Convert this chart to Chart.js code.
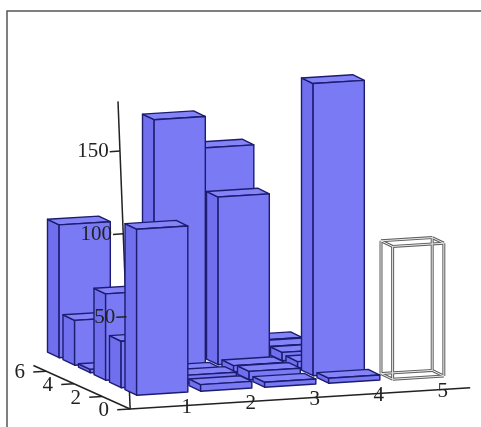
<!DOCTYPE html>
<html>
<head>
<meta charset="utf-8">
<script src="https://cdn.jsdelivr.net/npm/chart.js@4"></script>
<style>
  html, body { margin: 0; padding: 0; background: #fff; }
  #wrap { width: 481px; height: 427px; }
</style>
</head>
<body>
<div id="wrap"><canvas id="bars"></canvas></div>
<script>
// axis labels
const columnLabels = ["1", "2", "3", "4", "5"];
const depthLabels = [0, 2, 4, 6];
const heightLabels = [50, 100, 150];

// bar heights, one array per depth row (row0 = front row), one value per column
const row0 = [100, 4, 3, 3, 80];
const row1 = [28, 5, 5, 176, 0];
const row2 = [52, 3, 4, 4, 0];
const row3 = [2, 150, 101, 5, 0];
const row4 = [27, 3, 126, 4, 0];
const row5 = [80, 3, 3, 3, 0];
const rows = [row0, row1, row2, row3, row4, row5];

// cells drawn as an empty wire box: [row, column]
const hollowCells = [[0, 4]];

// oblique projection: column, depth row, height -> x/y scale values
const RX = -0.2422; // one row back moves left
const RY = 4.518;   // ... and up
const CY = 2.41;    // one column right moves up a little
const GAP = 0.1;

let points = [];
rows.forEach((vals, r) => {
  vals.forEach((v, c) => {
    points.push({ x: c, y: r, v: v });
  });
});

function proj(chart, c, r, v) {
  const xs = chart.scales.x;
  const ys = chart.scales.y;
  return [xs.getPixelForValue(c + r * RX), ys.getPixelForValue(v + c * CY + r * RY)];
}

function poly(ctx, pts, fill, stroke) {
  ctx.beginPath();
  ctx.moveTo(pts[0][0], pts[0][1]);
  for (let i = 1; i < pts.length; i++) ctx.lineTo(pts[i][0], pts[i][1]);
  ctx.closePath();
  if (fill) {
    ctx.fillStyle = fill;
    ctx.fill();
  }
  if (stroke) {
    ctx.strokeStyle = stroke;
    ctx.stroke();
  }
}

function line(ctx, a, b) {
  ctx.beginPath();
  ctx.moveTo(a[0], a[1]);
  ctx.lineTo(b[0], b[1]);
  ctx.stroke();
}

// z axis leans a little, like in the picture
function zAxisPoint(chart, v, dc) {
  return proj(chart, -0.3 + 0.19 * (180 - v) / 186 + (dc || 0), -0.4, v);
}

const bars3d = {
  id: "bars3d",
  afterDraw(chart) {
    const ctx = chart.ctx;
    const P = (c, r, v) => proj(chart, c, r, v);
    ctx.save();

    // frame
    ctx.strokeStyle = "#555";
    ctx.lineWidth = 1.5;
    ctx.beginPath();
    ctx.moveTo(7, 427);
    ctx.lineTo(7, 11);
    ctx.lineTo(481, 11);
    ctx.stroke();

    // z axis line (behind the bars)
    ctx.strokeStyle = "#222";
    ctx.lineWidth = 1.5;
    line(ctx, zAxisPoint(chart, -6), zAxisPoint(chart, 180));

    // bars, back to front
    const data = chart.data.datasets[0].data;
    const sorted = data.slice().sort((a, b) => (b.y - a.y) || (b.x - a.x));
    sorted.forEach((d) => {
      const hollow = hollowCells.some((h) => h[0] === d.y && h[1] === d.x);
      if (!d.v) return;
      const c0 = d.x + GAP, c1 = d.x + 1 - GAP;
      const r0 = d.y + 0.05, r1 = d.y + 0.8;
      const v = d.v;
      if (hollow) {
        const edges = [
          [[c0, r0, 0], [c1, r0, 0]], [[c0, r1, 0], [c1, r1, 0]],
          [[c0, r0, v], [c1, r0, v]], [[c0, r1, v], [c1, r1, v]],
          [[c0, r0, 0], [c0, r1, 0]], [[c1, r0, 0], [c1, r1, 0]],
          [[c0, r0, v], [c0, r1, v]], [[c1, r0, v], [c1, r1, v]],
          [[c0, r0, 0], [c0, r0, v]], [[c1, r0, 0], [c1, r0, v]],
          [[c0, r1, 0], [c0, r1, v]], [[c1, r1, 0], [c1, r1, v]],
        ];
        ctx.lineWidth = 3;
        ctx.strokeStyle = "rgb(95,95,95)";
        edges.forEach((e) => line(ctx, P(...e[0]), P(...e[1])));
        ctx.lineWidth = 1;
        ctx.strokeStyle = "rgb(235,235,235)";
        edges.forEach((e) => line(ctx, P(...e[0]), P(...e[1])));
        return;
      }
      ctx.lineWidth = 1.4;
      ctx.lineJoin = "round";
      const edge = "rgb(28,28,112)";
      // left side
      poly(ctx, [P(c0, r0, 0), P(c0, r1, 0), P(c0, r1, v), P(c0, r0, v)], "rgb(112,112,238)", edge);
      // top
      poly(ctx, [P(c0, r0, v), P(c1, r0, v), P(c1, r1, v), P(c0, r1, v)], "rgb(132,132,248)", edge);
      // front
      poly(ctx, [P(c0, r0, 0), P(c1, r0, 0), P(c1, r0, v), P(c0, r0, v)], "rgb(122,122,245)", edge);
    });

    ctx.strokeStyle = "#222";
    ctx.fillStyle = "#222";
    ctx.lineWidth = 1.5;
    ctx.font = '21px "Liberation Serif", "DejaVu Serif", serif';

    // x axis along the front
    const ra = -1.527, ca = -0.385;
    line(ctx, P(ca, ra, 0), P(4.93, ra, 0));
    ctx.textAlign = "center";
    ctx.textBaseline = "middle";
    columnLabels.forEach((lab, i) => {
      const p = P(i + 0.5, ra, -1);
      ctx.fillText(lab, p[0], p[1]);
    });

    // depth axis
    const depthPoint = (t, dc) => P(ca - 0.0136 * t + (dc || 0), ra + 0.847 * t, 0);
    line(ctx, depthPoint(0), depthPoint(6.9));
    depthLabels.forEach((t) => {
      line(ctx, depthPoint(t), depthPoint(t, -0.2));
      const p = depthPoint(t, -0.41);
      ctx.fillText(String(t), p[0], p[1]);
    });

    // z ticks and labels
    ctx.textAlign = "right";
    heightLabels.forEach((v) => {
      const a = zAxisPoint(chart, v);
      const b = zAxisPoint(chart, v, -0.16);
      line(ctx, a, b);
      ctx.fillText(String(v), b[0] - 1, b[1]);
    });

    ctx.restore();
  },
};

new Chart(document.getElementById("bars"), {
  type: "scatter",
  data: {
    datasets: [{ data: points, pointRadius: 0, showLine: false }],
  },
  options: {
    responsive: true,
    maintainAspectRatio: false,
    animation: false,
    layout: { padding: 0 },
    plugins: { legend: { display: false }, tooltip: { enabled: false } },
    scales: {
      x: { type: "linear", display: false, min: -131 / 64, max: 350 / 64 },
      y: { type: "linear", display: false, min: (396 - 427) / 1.66, max: 396 / 1.66 },
    },
  },
  plugins: [bars3d],
});
</script>
</body>
</html>
